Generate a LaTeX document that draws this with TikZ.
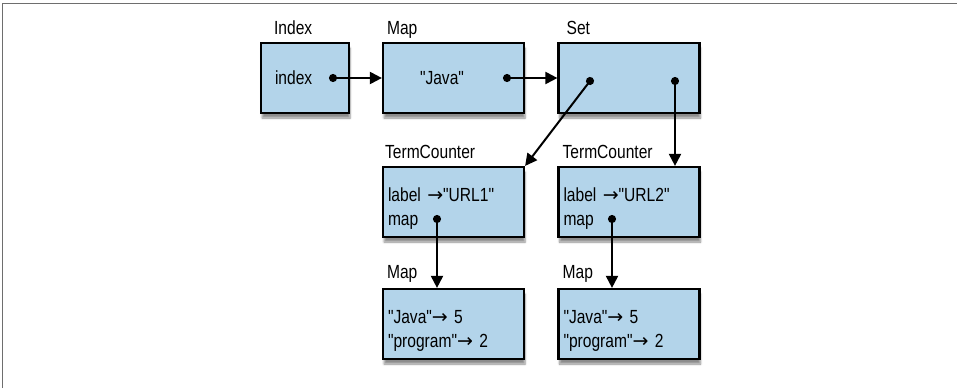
\documentclass[tikz,border=0pt]{standalone}
\usepackage{fontspec}
\setmainfont{Liberation Sans}[FakeStretch=0.82, Ligatures=TeXOff]
\newfontfamily\arrowfont{DejaVu Sans}
\usetikzlibrary{arrows.meta,shadows.blur,positioning}
\definecolor{boxblue}{RGB}{179,212,234}
\definecolor{framegray}{RGB}{110,110,110}
\newcommand{\maparrow}{{\arrowfont\fontsize{19}{24}\selectfont →}}

\begin{document}
\begin{tikzpicture}[x=1pt, y=-1pt, font=\fontsize{19}{24}\selectfont,
  object/.style={draw, line width=2.2pt, fill=boxblue, minimum height=70pt,
    inner xsep=5pt, text width=131pt, align=left,
    blur shadow={shadow xshift=1pt, shadow yshift=-5pt, shadow blur steps=6, shadow opacity=45}},
  listing/.style={object, execute at begin node={\rule{0pt}{26pt}}},
  title/.style={anchor=base west, inner sep=0pt},
  pointer/.style={{Circle[length=8pt]}-{Triangle[length=12pt,width=12pt]},
    line width=2pt, shorten <=-4pt},
]
\useasboundingbox (0,0) rectangle (957,388);
\draw[framegray, line width=1pt] (2,388) -- (2,3) -- (957,3);

\node[object, text width=78pt, inner xsep=5pt] (index) at (305,78) {\hspace*{9pt}index};
\node[object] (javamap) at (453.5,78) {\hspace*{32pt}"Java"};
\node[object] (termset) at (629,78) {};
\node[listing] (counter1) at (453.5,202) {label \maparrow"URL1"\\map};
\node[listing] (counter2) at (629,202) {label \maparrow"URL2"\\map};
\node[listing] (countmap1) at (453.5,324) {"Java"\maparrow\ 5\\"program"\maparrow\ 2};
\node[listing] (countmap2) at (629,324) {"Java"\maparrow\ 5\\"program"\maparrow\ 2};

\node[title] at ([shift={(14,-7)}]index.north west) {Index};
\node[title] at ([shift={(5,-7)}]javamap.north west) {Map};
\node[title] at ([shift={(9,-7)}]termset.north west) {Set};
\node[title] at ([shift={(3,-7)}]counter1.north west) {TermCounter};
\node[title] at ([shift={(5,-7)}]counter2.north west) {TermCounter};
\node[title] at ([shift={(5,-9)}]countmap1.north west) {Map};
\node[title] at ([shift={(5,-9)}]countmap2.north west) {Map};

\coordinate (indexptr) at (333,78);
\coordinate (javaptr) at (507,78);
\coordinate (setptr1) at (590,81);
\coordinate (setptr2) at (675,81);
\coordinate (mapptr1) at (437,219);
\coordinate (mapptr2) at (612,219);

\draw[pointer] (indexptr) -- (javamap);
\draw[pointer] (javaptr) -- (termset);
\draw[pointer] (setptr1) -- (counter1.north east);
\draw[pointer] (setptr2) -- (counter2.north -| setptr2);
\draw[pointer] (mapptr1) -- (countmap1.north -| mapptr1);
\draw[pointer] (mapptr2) -- (countmap2.north -| mapptr2);
\end{tikzpicture}
\end{document}
